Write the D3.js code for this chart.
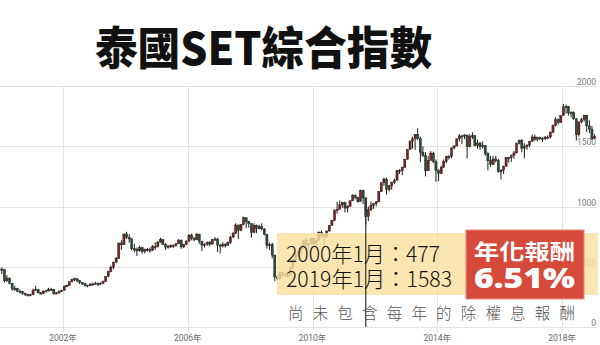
<!DOCTYPE html>
<html>
<head>
<meta charset="utf-8">
<script src="https://cdn.jsdelivr.net/npm/d3@7"></script>
<style>
  body { margin: 0; background: #fff; }
  svg { display: block; }
</style>
</head>
<body>
<div id="chart"></div>
<script>
const width = 600;
const height = 345;

// monthly SET index, 2000-01 .. 2019-01
const startMonth = "2000-01";
const firstOpen = 481;

const closes = [
  477, 383, 406, 363, 318, 320, 297, 293, 279, 270, 260, 269,
  303, 311, 283, 276, 297, 300, 314, 313, 276, 283, 297, 303,
  338, 344, 376, 395, 400, 386, 367, 363, 347, 342, 357, 356,
  363, 357, 364, 379, 420, 461, 497, 539, 569, 697, 682, 772,
  744, 731, 649, 645, 632, 660, 628, 643, 641, 638, 668, 668,
  703, 724, 686, 663, 671, 676, 677, 690, 722, 665, 686, 713,
  763, 738, 725, 770, 712, 679, 686, 702, 688, 728, 731, 679,
  673, 683, 679, 699, 745, 776, 847, 802, 852, 907, 876, 858,
  784, 845, 817, 832, 814, 768, 676, 684, 597, 416, 401, 450,
  437, 431, 431, 492, 560, 597, 624, 654, 717, 678, 691, 734,
  696, 718, 788, 763, 750, 797, 843, 886, 970, 975, 1014, 1033,
  987, 1000, 1047, 1093, 1077, 1041, 1134, 1070, 916, 973, 1009, 1025,
  1039, 1122, 1197, 1228, 1139, 1172, 1199, 1219, 1299, 1297, 1324, 1392,
  1474, 1542, 1561, 1598, 1562, 1451, 1423, 1296, 1383, 1443, 1371, 1299,
  1274, 1326, 1376, 1414, 1415, 1486, 1502, 1561, 1586, 1584, 1594, 1498,
  1581, 1587, 1505, 1527, 1496, 1505, 1440, 1382, 1349, 1394, 1381, 1288,
  1301, 1332, 1408, 1405, 1424, 1445, 1525, 1548, 1483, 1496, 1510, 1542,
  1577, 1559, 1575, 1566, 1562, 1575, 1576, 1616, 1673, 1721, 1697, 1754,
  1827, 1830, 1776, 1780, 1727, 1596, 1701, 1722, 1756, 1669, 1642, 1564,
  1583
];

const highs = [
  493, 478, 430, 410, 365, 340, 325, 310, 300, 285, 275, 275,
  320, 340, 315, 290, 305, 310, 325, 325, 315, 290, 302, 310,
  345, 352, 378, 400, 410, 405, 390, 372, 365, 350, 362, 368,
  375, 370, 370, 385, 422, 465, 510, 542, 580, 700, 720, 775,
  790, 770, 735, 690, 660, 675, 665, 650, 655, 660, 680, 700,
  715, 740, 730, 695, 680, 685, 685, 700, 728, 725, 690, 720,
  770, 775, 745, 780, 775, 715, 695, 710, 712, 730, 745, 735,
  690, 705, 695, 710, 755, 790, 860, 845, 855, 915, 905, 880,
  860, 860, 850, 850, 860, 820, 770, 700, 700, 600, 430, 460,
  456, 455, 440, 495, 565, 618, 630, 660, 720, 740, 700, 740,
  740, 720, 790, 800, 775, 800, 845, 890, 975, 1040, 1050, 1040,
  1040, 1010, 1050, 1100, 1100, 1080, 1140, 1140, 1075, 1000, 1040, 1030,
  1045, 1130, 1198, 1240, 1240, 1180, 1205, 1230, 1300, 1310, 1330, 1395,
  1475, 1548, 1580, 1600, 1649, 1580, 1500, 1450, 1420, 1460, 1455, 1390,
  1310, 1340, 1390, 1420, 1425, 1490, 1510, 1565, 1600, 1595, 1600, 1590,
  1600, 1616, 1590, 1555, 1535, 1540, 1510, 1450, 1420, 1420, 1420, 1395,
  1310, 1340, 1410, 1410, 1430, 1460, 1530, 1555, 1560, 1525, 1515, 1545,
  1596, 1595, 1580, 1580, 1575, 1585, 1590, 1622, 1680, 1740, 1730, 1755,
  1852, 1845, 1835, 1790, 1790, 1735, 1705, 1735, 1760, 1760, 1715, 1670,
  1600
];

const lows = [
  440, 370, 375, 355, 300, 300, 290, 280, 266, 258, 252, 255,
  265, 300, 280, 270, 273, 290, 295, 300, 268, 272, 278, 292,
  302, 330, 340, 370, 380, 370, 355, 350, 335, 330, 340, 348,
  352, 340, 350, 355, 375, 415, 455, 480, 530, 565, 640, 680,
  730, 700, 635, 620, 590, 625, 610, 610, 625, 615, 630, 640,
  660, 700, 680, 640, 650, 655, 655, 665, 690, 650, 655, 680,
  705, 720, 710, 720, 690, 630, 660, 675, 670, 685, 715, 622,
  610, 660, 660, 675, 690, 740, 770, 730, 795, 845, 820, 825,
  740, 780, 780, 810, 800, 760, 650, 640, 570, 380, 384, 400,
  420, 415, 411, 428, 490, 540, 580, 600, 650, 670, 650, 685,
  670, 670, 720, 740, 680, 740, 790, 840, 880, 940, 980, 990,
  950, 950, 1000, 1045, 1060, 1030, 1040, 1020, 850, 880, 960, 980,
  1000, 1035, 1125, 1170, 1100, 1125, 1140, 1185, 1215, 1270, 1260, 1320,
  1390, 1470, 1480, 1470, 1550, 1370, 1410, 1250, 1300, 1380, 1360, 1205,
  1210, 1270, 1320, 1360, 1390, 1400, 1475, 1500, 1540, 1520, 1560, 1400,
  1490, 1560, 1500, 1480, 1470, 1480, 1420, 1300, 1330, 1345, 1365, 1280,
  1224, 1270, 1335, 1365, 1370, 1395, 1440, 1515, 1450, 1400, 1470, 1490,
  1535, 1545, 1540, 1550, 1535, 1550, 1560, 1565, 1610, 1665, 1680, 1695,
  1750, 1770, 1755, 1740, 1720, 1547, 1580, 1690, 1705, 1618, 1610, 1550,
  1560
];

const yTicks = [0, 500, 1000, 1500, 2000];
const xTickYears = [2002, 2006, 2010, 2014, 2018];
const cursorMonth = "2011-09";

const title = "泰國SET綜合指數";
const noteLines = ["2000年1月：477", "2019年1月：1583"];
const badgeLines = ["年化報酬", "6.51%"];
const footNote = "尚未包含每年的除權息報酬";

// build candle table
const parseMonth = d3.timeParse("%Y-%m");
const t0 = parseMonth(startMonth);
const candles = closes.map((c, i) => ({
  date: d3.timeMonth.offset(t0, i),
  open: i === 0 ? firstOpen : closes[i - 1],
  close: c,
  high: highs[i],
  low: lows[i]
}));

// scales
const x = d3.scaleTime()
  .domain([new Date(2000, 0, 1), new Date(2019, 0, 1)])
  .range([0.5, 593.3]);

const y = d3.scaleLinear()
  .domain([0, 2000])
  .range([327, 86]);

const plotRight = 597;

const svg = d3.select("#chart").append("svg")
  .attr("width", width)
  .attr("height", height);

// grid
svg.append("g")
  .selectAll("line")
  .data(yTicks)
  .join("line")
  .attr("x1", 0)
  .attr("x2", plotRight)
  .attr("y1", d => Math.round(y(d)) + 0.5)
  .attr("y2", d => Math.round(y(d)) + 0.5)
  .attr("stroke", "#e2e2e2")
  .attr("stroke-width", 1);

svg.append("g")
  .selectAll("line")
  .data(xTickYears)
  .join("line")
  .attr("x1", d => Math.round(x(new Date(d, 0, 1))) + 0.5)
  .attr("x2", d => Math.round(x(new Date(d, 0, 1))) + 0.5)
  .attr("y1", y(2000))
  .attr("y2", y(0) + 5)
  .attr("stroke", "#e2e2e2")
  .attr("stroke-width", 1);

// y labels (right side, sitting on the grid lines)
svg.append("g")
  .selectAll("text")
  .data(yTicks)
  .join("text")
  .attr("x", 596)
  .attr("y", d => y(d) - 1)
  .attr("text-anchor", "end")
  .attr("font-family", "Roboto, 'DejaVu Sans', sans-serif")
  .attr("font-size", 8.5)
  .attr("fill", "#777")
  .text(d => d);

// x labels
svg.append("g")
  .selectAll("text")
  .data(xTickYears)
  .join("text")
  .attr("x", d => x(new Date(d, 0, 1)))
  .attr("y", 341)
  .attr("text-anchor", "middle")
  .attr("font-family", "Roboto, 'Noto Sans CJK TC', sans-serif")
  .attr("font-size", 8.5)
  .attr("fill", "#666")
  .text(d => d + "年");

// candles
const mid = d => x(d3.timeDay.offset(d.date, 15));

const candleG = svg.append("g")
  .selectAll("g")
  .data(candles)
  .join("g");

candleG.append("line")
  .attr("x1", d => mid(d))
  .attr("x2", d => mid(d))
  .attr("y1", d => y(d.high))
  .attr("y2", d => y(d.low))
  .attr("stroke", "#1a1a1a")
  .attr("stroke-width", 1);

candleG.append("rect")
  .attr("x", d => mid(d) - 1.1)
  .attr("width", 2.2)
  .attr("y", d => y(Math.max(d.open, d.close)))
  .attr("height", d => Math.max(1.2, Math.abs(y(d.open) - y(d.close))))
  .attr("fill", d => d.close >= d.open ? "#7a2424" : "#284f30")
  .attr("stroke", "#1a1a1a")
  .attr("stroke-width", 0.4);

// title
svg.append("text")
  .attr("x", 263.5)
  .attr("y", 65)
  .attr("text-anchor", "middle")
  .attr("font-family", "'Noto Sans CJK TC', 'Noto Sans CJK SC', sans-serif")
  .attr("font-weight", 900)
  .attr("font-size", 45)
  .attr("textLength", 337)
  .attr("lengthAdjust", "spacingAndGlyphs")
  .attr("fill", "#111")
  .text(title);

// yellow annotation band
svg.append("rect")
  .attr("x", 277)
  .attr("y", 233)
  .attr("width", 321)
  .attr("height", 62)
  .attr("fill", "rgb(250, 224, 160)")
  .attr("opacity", 0.82);

// cursor line (over the band, under the texts)
const cur = candles.find(d => d3.timeFormat("%Y-%m")(d.date) === cursorMonth);
svg.append("line")
  .attr("x1", mid(cur))
  .attr("x2", mid(cur))
  .attr("y1", y(cur.high))
  .attr("y2", y(0))
  .attr("stroke", "#333")
  .attr("stroke-width", 1.2);

svg.append("g")
  .selectAll("text")
  .data(noteLines)
  .join("text")
  .attr("x", 286)
  .attr("y", (d, i) => 262 + i * 25)
  .attr("font-family", "'Noto Sans CJK TC', 'Noto Sans', sans-serif")
  .attr("font-weight", 300)
  .attr("font-size", 22)
  .attr("textLength", (d, i) => i === 0 ? 154 : 166)
  .attr("lengthAdjust", "spacingAndGlyphs")
  .attr("fill", "#111")
  .text(d => d);

// red badge
svg.append("rect")
  .attr("x", 466)
  .attr("y", 230)
  .attr("width", 118)
  .attr("height", 69)
  .attr("fill", "#d64a3c")
  .attr("stroke", "#e98a7e")
  .attr("stroke-width", 1);

svg.append("text")
  .attr("x", 474)
  .attr("y", 259)
  .attr("font-family", "'Noto Sans CJK TC', sans-serif")
  .attr("font-weight", 700)
  .attr("font-size", 21)
  .attr("textLength", 101)
  .attr("lengthAdjust", "spacingAndGlyphs")
  .attr("fill", "#fff")
  .text(badgeLines[0]);

svg.append("text")
  .attr("x", 474)
  .attr("y", 288)
  .attr("font-family", "'Noto Sans', 'DejaVu Sans', sans-serif")
  .attr("font-weight", 900)
  .attr("font-size", 28)
  .attr("textLength", 101)
  .attr("lengthAdjust", "spacingAndGlyphs")
  .attr("fill", "#fff")
  .text(badgeLines[1]);

// footnote
svg.append("text")
  .attr("x", 288)
  .attr("y", 318.5)
  .attr("font-family", "'Noto Sans CJK TC', sans-serif")
  .attr("font-weight", 300)
  .attr("font-size", 15.5)
  .attr("textLength", 287)
  .attr("lengthAdjust", "spacing")
  .attr("fill", "#555")
  .text(footNote);
</script>
</body>
</html>
